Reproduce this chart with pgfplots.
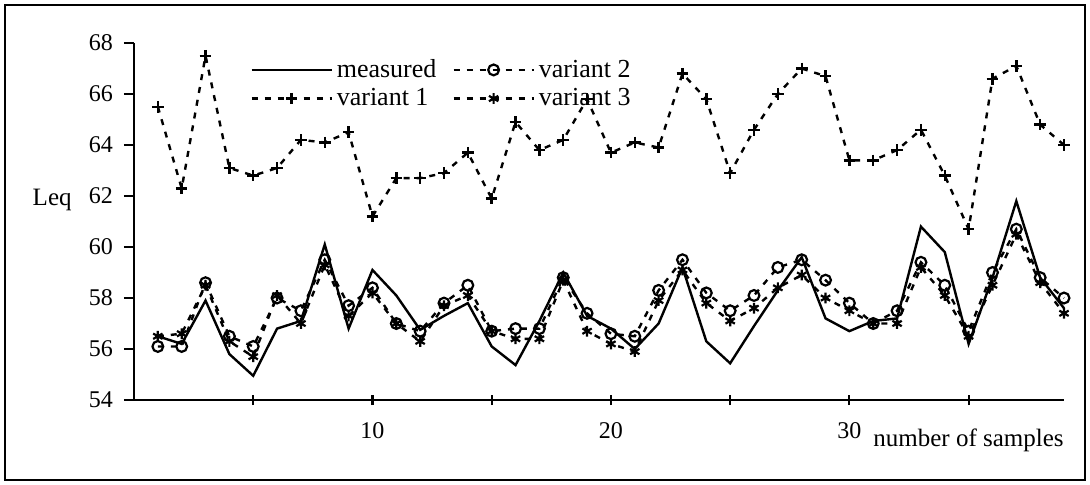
\documentclass[border=0pt]{standalone}
\usepackage{fontspec}
\setmainfont{Liberation Serif}
\usepackage{pgfplots}
\usepackage{pgfplotstable}
\pgfplotsset{compat=1.18}

% n, measured, variant 1, variant 2, variant 3
\pgfplotstableread{
n  meas   v1    v2    v3
1  56.5   65.5  56.1  56.5
2  56.2   62.3  56.1  56.6
3  57.9   67.5  58.6  58.5
4  55.8   63.1  56.5  56.3
5  54.95  62.8  56.1  55.7
6  56.8   63.1  58.0  58.1
7  57.1   64.2  57.5  57.0
8  60.1   64.1  59.5  59.3
9  56.8   64.5  57.7  57.3
10 59.1   61.2  58.4  58.2
11 58.1   62.7  57.0  57.0
12 56.75  62.7  56.7  56.3
13 57.3   62.9  57.8  57.7
14 57.8   63.7  58.5  58.1
15 56.1   61.9  56.7  56.7
16 55.37  64.9  56.8  56.4
17 57.1   63.8  56.8  56.4
18 59.0   64.2  58.8  58.7
19 57.3   65.8  57.4  56.7
20 56.8   63.7  56.6  56.2
21 56.0   64.1  56.5  55.9
22 57.0   63.9  58.3  57.9
23 59.2   66.8  59.5  59.1
24 56.3   65.8  58.2  57.8
25 55.44  62.9  57.5  57.1
26 56.9   64.6  58.1  57.6
27 58.3   66.0  59.2  58.4
28 59.6   67.0  59.5  58.9
29 57.2   66.7  58.7  58.0
30 56.7   63.4  57.8  57.5
31 57.1   63.4  57.0  57.0
32 57.2   63.8  57.5  57.0
33 60.8   64.6  59.4  59.2
34 59.8   62.8  58.5  58.1
35 56.2   60.7  56.7  56.5
36 58.8   66.6  59.0  58.5
37 61.8   67.1  60.7  60.5
38 58.8   64.8  58.8  58.6
39 57.6   64.0  58.0  57.4
}\leqdata

\begin{document}
\begin{tikzpicture}[font=\fontsize{12.5}{14}\selectfont]
\begin{axis}[
    name=ax,
    scale only axis,
    width=465pt, height=178.5pt,
    xmin=0, xmax=39,
    ymin=54, ymax=68,
    axis lines*=left,
    axis line style={line width=1.2pt},
    xtick={5,10,...,35},
    xticklabels={,10,,20,,30,},
    ytick={54,56,...,68},
    xtick align=center,
    ytick align=outside,
    major tick length=5pt,
    tick style={line width=1.1pt, black},
    ticklabel style={font=\fontsize{12}{14}\selectfont},
    /pgf/number format/assume math mode=true,
    xticklabel style={yshift=-5pt},
    yticklabel style={xshift=-2pt},
    clip=false,
    legend columns=2,
    legend style={at={(rel axis cs:0,1)}, anchor=north west,
                  xshift=58pt, yshift=-6pt,
                  draw=none, fill=none, inner sep=0pt,
                  font=\fontsize{13}{14}\selectfont,
                  /tikz/every even column/.append style={column sep=6pt}},
    legend cell align=left,
    legend image code/.code={%
        \draw[mark repeat=2,mark phase=2,#1]
            plot coordinates {(0pt,0pt) (20pt,0pt) (40pt,0pt)};},
]
\addplot[black, line width=1.2pt, no markers] table[x=n, y=meas] {\leqdata};
\addlegendentry{measured}
\addplot[black, line width=1.2pt, dash pattern=on 3pt off 3.5pt,
         mark=o, mark size=2.7pt, mark options={solid, line width=1.1pt}]
         table[x=n, y=v2] {\leqdata};
\addlegendentry{variant 2}
\addplot[black, line width=1.2pt, dash pattern=on 3pt off 3.5pt,
         mark=+, mark size=2.9pt, mark options={solid, line width=1.2pt}]
         table[x=n, y=v1] {\leqdata};
\addlegendentry{variant 1}
\addplot[black, line width=1.2pt, dash pattern=on 3pt off 3.5pt,
         mark=asterisk, mark size=2.7pt, mark options={solid, line width=1.1pt}]
         table[x=n, y=v3] {\leqdata};
\addlegendentry{variant 3}
\node[anchor=east, inner sep=0pt] at (rel axis cs:0,0.56) [xshift=-31pt] {Leq};
\node[anchor=base east, inner sep=0pt] at (rel axis cs:1,0) [yshift=-23pt] {number of samples};
\end{axis}
\draw[line width=1pt] ([xshift=-64.5pt,yshift=-40pt]ax.south west)
    rectangle ([xshift=10.5pt,yshift=19pt]ax.north east);
\path ([xshift=-67pt,yshift=-42pt]ax.south west)
    rectangle ([xshift=13pt,yshift=21.5pt]ax.north east);
\end{tikzpicture}
\end{document}
